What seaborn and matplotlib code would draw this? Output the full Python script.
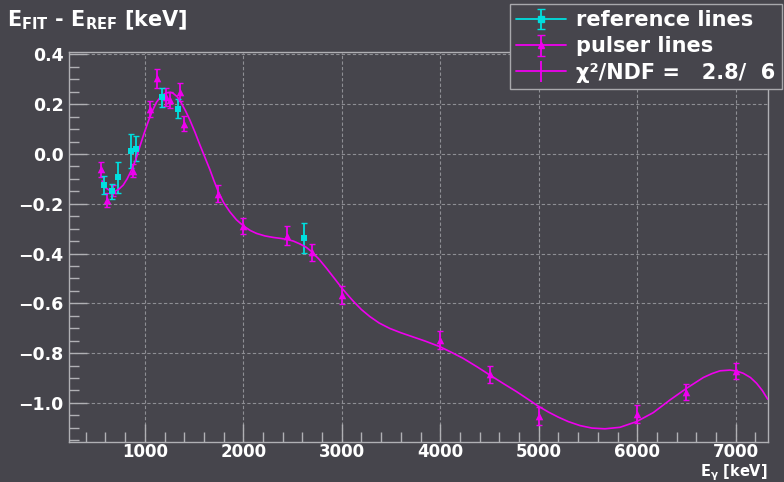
import numpy as np
import pandas as pd
import matplotlib
matplotlib.use("Agg")
import matplotlib.pyplot as plt
import seaborn as sns
from matplotlib.lines import Line2D
from matplotlib.legend_handler import HandlerTuple
from matplotlib.ticker import MultipleLocator, FuncFormatter

# --- calibration residuals -------------------------------------------------
ref_energy = [583, 662, 727, 861, 911, 1173, 1332, 2614]
ref_delta = [-0.125, -0.149, -0.094, 0.012, 0.022, 0.228, 0.182, -0.336]
ref_err = [0.036, 0.030, 0.064, 0.069, 0.050, 0.037, 0.038, 0.060]

pulser_energy = [550, 617, 678, 875, 1054, 1127, 1210, 1259, 1356, 1398, 1746,
                 1995, 2445, 2700, 3000, 3996, 4504, 5002, 6000, 6498, 7000]
pulser_delta = [-0.062, -0.185, -0.145, -0.067, 0.182, 0.304, 0.230, 0.217,
                0.250, 0.122, -0.160, -0.288, -0.328, -0.395, -0.567, -0.747,
                -0.885, -1.052, -1.045, -0.955, -0.871]
pulser_err = [0.032, 0.027, 0.022, 0.027, 0.033, 0.037, 0.035, 0.033, 0.036,
              0.030, 0.034, 0.032, 0.037, 0.033, 0.037, 0.037, 0.035, 0.035,
              0.035, 0.032, 0.033]

# fitted correction curve, sampled
fit_energy = [566, 600, 650, 695, 740, 780, 820, 865, 910, 949, 990, 1034,
              1075, 1118, 1170, 1220, 1260, 1288, 1330, 1372, 1415, 1457, 1510,
              1559, 1610, 1660, 1700, 1745, 1800, 1863, 1930, 1999, 2070, 2135,
              2220, 2303, 2380, 2445, 2510, 2574, 2640, 2693, 2770, 2845, 2920,
              2998, 3060, 3116, 3200, 3285, 3380, 3489, 3600, 3725, 3850, 3996,
              4110, 4233, 4370, 4504, 4640, 4776, 4890, 4995, 5100, 5198, 5300,
              5419, 5540, 5672, 5825, 5994, 6163, 6333, 6502, 6671, 6760, 6841,
              6942, 7010, 7077, 7150, 7212, 7270, 7325]
fit_delta = [-0.108, -0.135, -0.148, -0.150, -0.140, -0.125, -0.100, -0.064,
             -0.020, 0.030, 0.080, 0.130, 0.172, 0.208, 0.235, 0.246, 0.248,
             0.244, 0.230, 0.204, 0.172, 0.137, 0.087, 0.037, -0.013, -0.062,
             -0.105, -0.150, -0.195, -0.232, -0.264, -0.288, -0.307, -0.319,
             -0.329, -0.335, -0.339, -0.343, -0.350, -0.361, -0.375, -0.392,
             -0.423, -0.459, -0.497, -0.537, -0.566, -0.591, -0.625, -0.653,
             -0.679, -0.701, -0.718, -0.735, -0.752, -0.774, -0.796, -0.821,
             -0.854, -0.888, -0.922, -0.955, -0.985, -1.013, -1.037, -1.057,
             -1.075, -1.091, -1.101, -1.104, -1.098, -1.075, -1.039, -0.988,
             -0.941, -0.898, -0.882, -0.871, -0.868, -0.872, -0.881, -0.898,
             -0.921, -0.950, -0.985]

chi2_label = "χ²/NDF =   2.8/  6"

# --- style -----------------------------------------------------------------
BG = "#46454c"
CYAN = "#00dede"
MAG = "#ee00ee"
TICKC = "#b0b0b4"
FONT = "DejaVu Sans"

sns.set_theme(style="dark")
plt.rcParams.update({
    "figure.facecolor": BG,
    "axes.facecolor": BG,
    "savefig.facecolor": BG,
    "font.family": [FONT],
    "font.weight": "bold",
    "mathtext.fontset": "dejavusans",
    "mathtext.default": "bf",
    "axes.unicode_minus": True,
})

ref_df = pd.DataFrame({"E": ref_energy, "d": ref_delta, "err": ref_err})
pul_df = pd.DataFrame({"E": pulser_energy, "d": pulser_delta, "err": pulser_err})
fit_df = pd.DataFrame({"E": fit_energy, "d": fit_delta})

fig = plt.figure(figsize=(7.84, 4.82), dpi=100)
ax = fig.add_axes([69 / 784, 1 - 442 / 482, (767.7 - 69) / 784, (442 - 52) / 482])
ax.set_facecolor(BG)

# grid
ax.grid(True, which="major", color="#8e8e94", linestyle=(0, (3, 2)), linewidth=0.8)
ax.set_axisbelow(True)

# error bars
ax.errorbar(pul_df["E"], pul_df["d"], yerr=pul_df["err"], fmt="none",
            ecolor=MAG, elinewidth=1.3, capsize=2, capthick=1.0, zorder=3)
ax.errorbar(ref_df["E"], ref_df["d"], yerr=ref_df["err"], fmt="none",
            ecolor=CYAN, elinewidth=1.3, capsize=2, capthick=1.0, zorder=3)

# fit curve
sns.lineplot(data=fit_df, x="E", y="d", ax=ax, color=MAG, linewidth=1.2,
             sort=False, estimator=None, zorder=4)

# markers
sns.scatterplot(data=pul_df, x="E", y="d", ax=ax, marker="^", color=MAG,
                s=30, linewidth=0, zorder=5)
sns.scatterplot(data=ref_df, x="E", y="d", ax=ax, marker="s", color=CYAN,
                s=22, linewidth=0, zorder=6)

# axes ranges & ticks
ax.set_xlim(230, 7325)
ax.set_ylim(-1.157, 0.41)
ax.xaxis.set_major_locator(MultipleLocator(1000))
ax.xaxis.set_minor_locator(MultipleLocator(200))
ax.yaxis.set_major_locator(MultipleLocator(0.2))
ax.yaxis.set_minor_locator(MultipleLocator(0.05))
ax.yaxis.set_major_formatter(FuncFormatter(
    lambda v, p: f"{v:.1f}".replace("-", "\u2212") if abs(v) > 1e-9 else "0.0"))
ax.xaxis.set_major_formatter(FuncFormatter(lambda v, p: f"{v:.0f}"))
ax.tick_params(which="both", direction="in", colors=TICKC, labelcolor="white",
               labelsize=12.5, bottom=True, left=True, top=False, right=False)
ax.tick_params(axis="x", which="major", labelsize=12, pad=1)
ax.tick_params(which="major", length=13, width=1.0)
ax.tick_params(axis="y", which="major", pad=4)
ax.tick_params(which="minor", length=7, width=1.0)
for lab in ax.get_xticklabels() + ax.get_yticklabels():
    lab.set_fontweight("bold")
for side in ["left", "bottom", "top", "right"]:
    ax.spines[side].set_visible(True)
    ax.spines[side].set_color(TICKC)
    ax.spines[side].set_linewidth(1.0)
ax.set_xlabel("")
ax.set_ylabel("")

# titles
fig.text(7 / 784, 1 - 26 / 482, r"E$_{FIT}$ - E$_{REF}$ [keV]", color="white",
         fontsize=15, fontweight="bold", ha="left", va="baseline")
fig.text(767.7 / 784, 1 - 476 / 482, r"E$_{\gamma}$ [keV]", color="white",
         fontsize=10.5, fontweight="bold", ha="right", va="baseline")

# legend
h_ref = (Line2D([], [], color=CYAN, lw=1.3),
         ax.errorbar([np.nan], [np.nan], yerr=[1], fmt="s", color=CYAN,
                     ms=4.5, elinewidth=1.3, capsize=3))
h_pul = (Line2D([], [], color=MAG, lw=1.3),
         ax.errorbar([np.nan], [np.nan], yerr=[1], fmt="^", color=MAG,
                     ms=5, elinewidth=1.3, capsize=3))
h_fit = (Line2D([], [], color=MAG, lw=1.3),
         ax.errorbar([np.nan], [np.nan], yerr=[1], fmt="none", ecolor=MAG,
                     elinewidth=1.3, capsize=0))
leg = fig.legend(handles=[h_ref, h_pul, h_fit],
                 labels=["reference lines", "pulser lines", chi2_label],
                 handler_map={tuple: HandlerTuple(ndivide=1)},
                 loc="upper right", bbox_to_anchor=(782 / 784, 1 - 4 / 482),
                 prop={"family": FONT, "weight": "bold", "size": 15},
                 labelcolor="white", frameon=True, fancybox=False,
                 edgecolor="#a8a8ac", facecolor=BG, framealpha=1.0,
                 handlelength=2.4, handletextpad=0.5, labelspacing=0.3,
                 borderpad=0.3, borderaxespad=0.0)
leg.get_frame().set_linewidth(1.0)

fig.savefig("out.png", dpi=100, facecolor=BG)
